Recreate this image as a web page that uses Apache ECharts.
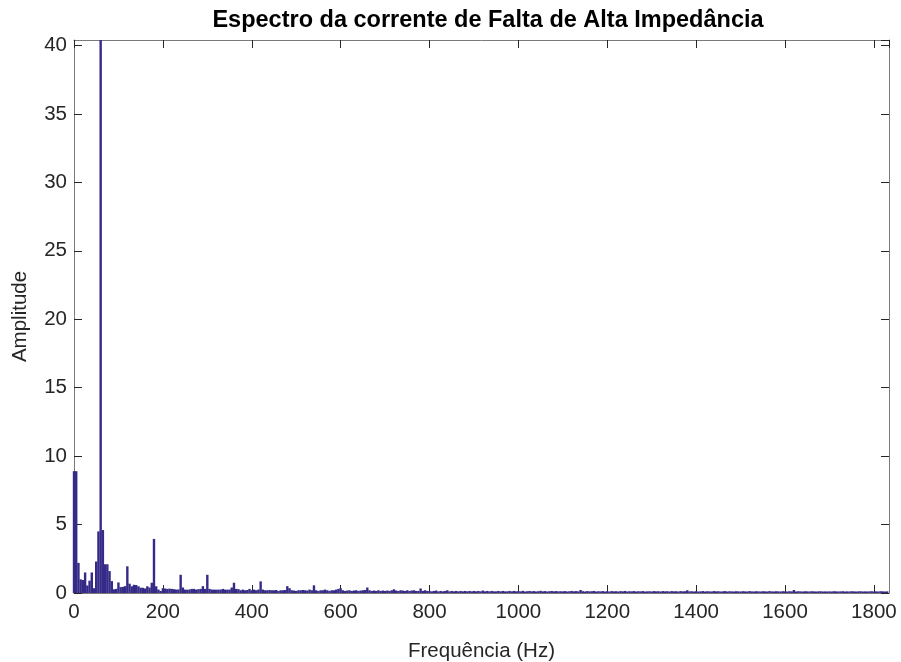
<!DOCTYPE html>
<html>
<head>
<meta charset="utf-8">
<script src="https://cdn.jsdelivr.net/npm/echarts@6/dist/echarts.min.js"></script>
<style>html,body{margin:0;padding:0;background:#fff}#c{width:901px;height:662px}</style>
</head>
<body>
<div id="c"></div>
<script>
// Frequency resolution of the spectrum (Hz)
const freqStep = 5;
// Amplitudes 0–295 Hz
const ampLow = [
  8.9, 8.9, 2.2, 1.0, 0.95, 1.5, 0.55, 0.9, 1.5, 0.35,
  2.3, 4.5, 40.4, 4.6, 2.1, 2.1, 1.6, 0.87, 0.27, 0.3,
  0.77, 0.43, 0.45, 0.5, 1.95, 0.68, 0.49, 0.6, 0.58, 0.49,
  0.39, 0.38, 0.33, 0.49, 0.4, 0.75, 3.95, 0.49, 0.25, 0.15,
  0.35, 0.33, 0.3, 0.32, 0.3, 0.28, 0.25, 0.26, 1.33, 0.4,
  0.25, 0.24, 0.26, 0.3, 0.3, 0.25, 0.28, 0.3, 0.5, 0.3
];
// Amplitudes 300–595 Hz
const ampMid = [
  1.33, 0.3, 0.25, 0.25, 0.24, 0.25, 0.25, 0.3, 0.25, 0.24,
  0.25, 0.4, 0.75, 0.3, 0.28, 0.2, 0.25, 0.2, 0.22, 0.3,
  0.2, 0.25, 0.2, 0.25, 0.85, 0.25, 0.2, 0.2, 0.22, 0.2,
  0.2, 0.22, 0.15, 0.2, 0.2, 0.22, 0.5, 0.35, 0.2, 0.18,
  0.15, 0.2, 0.2, 0.22, 0.2, 0.18, 0.25, 0.2, 0.56, 0.2,
  0.15, 0.2, 0.2, 0.25, 0.2, 0.15, 0.2, 0.2, 0.25, 0.3
];
// Amplitudes 600–1830 Hz
const ampHigh = [
  0.35, 0.2, 0.15, 0.18, 0.2, 0.15, 0.18, 0.2, 0.15, 0.18, 0.2, 0.22, 0.4, 0.2, 0.15, 0.18, 0.15, 0.2, 0.15, 0.18,
  0.15, 0.18, 0.15, 0.2, 0.27, 0.18, 0.15, 0.2, 0.18, 0.15, 0.2, 0.15, 0.18, 0.2, 0.15, 0.15, 0.33, 0.15, 0.2, 0.15,
  0.15, 0.12, 0.15, 0.18, 0.12, 0.15, 0.12, 0.15, 0.2, 0.12, 0.15, 0.12, 0.15, 0.12, 0.15, 0.12, 0.15, 0.12, 0.15, 0.12,
  0.15, 0.12, 0.15, 0.12, 0.18, 0.12, 0.15, 0.12, 0.15, 0.12, 0.12, 0.15, 0.12, 0.15, 0.12, 0.12, 0.15, 0.12, 0.15, 0.12,
  0.14, 0.12, 0.16, 0.11, 0.13, 0.15, 0.12, 0.14, 0.11, 0.13, 0.16, 0.12, 0.14, 0.11, 0.13, 0.15, 0.12, 0.14, 0.12, 0.13,
  0.12, 0.14, 0.11, 0.13, 0.15, 0.12, 0.14, 0.12, 0.22, 0.13, 0.11, 0.14, 0.12, 0.13, 0.15, 0.11, 0.13, 0.12, 0.14, 0.11,
  0.13, 0.11, 0.14, 0.12, 0.13, 0.11, 0.14, 0.12, 0.15, 0.11, 0.13, 0.12, 0.14, 0.11, 0.13, 0.12, 0.14, 0.11, 0.12, 0.13,
  0.11, 0.14, 0.12, 0.13, 0.11, 0.14, 0.12, 0.13, 0.11, 0.14, 0.12, 0.13, 0.11, 0.14, 0.12, 0.13, 0.2, 0.12, 0.13, 0.11,
  0.13, 0.11, 0.12, 0.14, 0.11, 0.13, 0.12, 0.11, 0.14, 0.12, 0.13, 0.11, 0.12, 0.14, 0.11, 0.13, 0.12, 0.11, 0.13, 0.12,
  0.11, 0.13, 0.12, 0.11, 0.14, 0.12, 0.11, 0.13, 0.12, 0.11, 0.13, 0.12, 0.11, 0.14, 0.12, 0.11, 0.13, 0.12, 0.11, 0.13,
  0.12, 0.11, 0.13, 0.12, 0.22, 0.11, 0.13, 0.12, 0.11, 0.13, 0.12, 0.11, 0.13, 0.12, 0.11, 0.12, 0.13, 0.11, 0.12, 0.11,
  0.12, 0.11, 0.13, 0.12, 0.11, 0.12, 0.13, 0.11, 0.12, 0.11, 0.13, 0.12, 0.11, 0.12, 0.13, 0.11, 0.12, 0.11, 0.12, 0.13,
  0.11, 0.12, 0.11, 0.13, 0.12, 0.11, 0.12
];
const xTicks = [0, 200, 400, 600, 800, 1000, 1200, 1400, 1600, 1800];
const yTicks = [0, 5, 10, 15, 20, 25, 30, 35, 40];
const xMax = 1834, yMax = 40.4;

const amps = ampLow.concat(ampMid, ampHigh);
const seriesData = amps.map((a, i) => [i * freqStep, a]);

const FONT = 'Liberation Sans, Arial, Helvetica, sans-serif';
const lineCol = '#7a7a7a', tickCol = '#262626', textCol = '#262626';
const fs = 20.5;

const chart = echarts.init(document.getElementById('c'), null, {renderer: 'canvas'});
const xFmt = v => xTicks.includes(v) ? String(v) : '';
const yFmt = v => yTicks.includes(v) ? String(v) : '';
const baseAxis = {
  axisLine: {show: true, onZero: false, lineStyle: {color: lineCol, width: 1}},
  axisTick: {show: true, inside: true, length: 8, lineStyle: {color: tickCol, width: 1}},
  splitLine: {show: false}
};
chart.setOption({
  animation: false,
  backgroundColor: '#fff',
  title: {
    text: 'Espectro da corrente de Falta de Alta Impedância',
    left: 483, top: 4, textAlign: 'center',
    textStyle: {fontFamily: FONT, fontWeight: 'bold', fontSize: 23.5, color: '#000'}
  },
  grid: {left: 74, right: 12, top: 40, bottom: 69, containLabel: false, outerBoundsMode: 'none'},
  xAxis: [
    Object.assign({}, baseAxis, {
      type: 'value', min: 0, max: xMax, interval: 200, position: 'bottom',
      name: 'Frequência (Hz)', nameLocation: 'middle', nameGap: 48,
      nameTextStyle: {fontFamily: FONT, fontSize: fs, color: textCol},
      axisLabel: {fontFamily: FONT, fontSize: fs, color: textCol, margin: 9, formatter: xFmt, showMaxLabel: false}
    }),
    Object.assign({}, baseAxis, {
      type: 'value', min: 0, max: xMax, interval: 200, position: 'top',
      axisLabel: {show: false}
    })
  ],
  yAxis: [
    Object.assign({}, baseAxis, {
      type: 'value', min: 0, max: yMax, interval: 5, position: 'left',
      name: 'Amplitude', nameLocation: 'middle', nameGap: 43, nameRotate: 90,
      nameTextStyle: {fontFamily: FONT, fontSize: fs, color: textCol},
      axisLabel: {fontFamily: FONT, fontSize: fs, color: textCol, margin: 7, formatter: yFmt, showMaxLabel: false}
    }),
    Object.assign({}, baseAxis, {
      type: 'value', min: 0, max: yMax, interval: 5, position: 'right',
      axisLabel: {show: false}
    })
  ],
  series: [{
    type: 'bar',
    xAxisIndex: 0, yAxisIndex: 0,
    data: seriesData,
    barWidth: 2.4,
    itemStyle: {color: '#352a87'},
    emphasis: {disabled: true},
    silent: true
  }]
});
</script>
</body>
</html>
